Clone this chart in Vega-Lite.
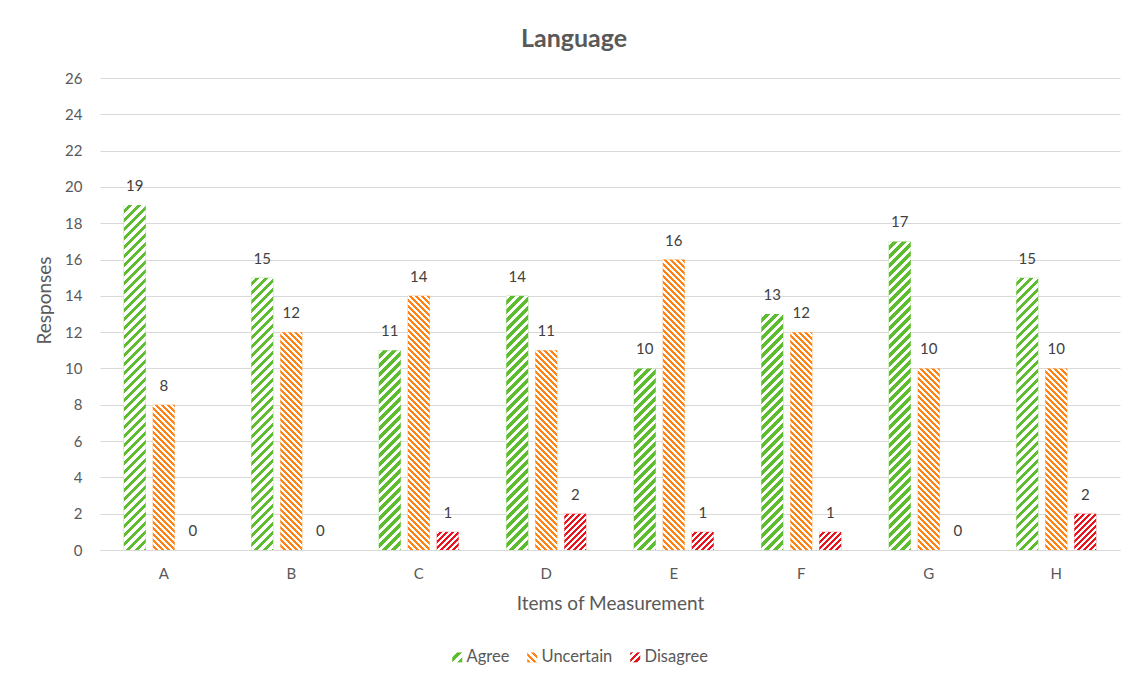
{
  "$schema": "https://vega.github.io/schema/vega-lite/v6.json",
  "autosize": {"type": "none"},
  "padding": {"left": 100, "top": 78, "right": 21, "bottom": 131},
  "width": 1020,
  "height": 472,
  "background": "#ffffff",
  "title": {
    "text": "Language",
    "fontSize": 25,
    "fontWeight": "bold",
    "color": "#595959",
    "anchor": "middle",
    "baseline": "alphabetic",
    "dx": -36,
    "offset": -1
  },
  "params": [
    {
      "name": "hatch",
      "value": [
        {"offset": 0, "color": "#ffffff"},
        {"offset": 0.00926, "color": "#ffffff"}, {"offset": 0.00926, "color": "rgba(255,255,255,0)"},
        {"offset": 0.01852, "color": "rgba(255,255,255,0)"}, {"offset": 0.01852, "color": "#ffffff"},
        {"offset": 0.02778, "color": "#ffffff"}, {"offset": 0.02778, "color": "rgba(255,255,255,0)"},
        {"offset": 0.03704, "color": "rgba(255,255,255,0)"}, {"offset": 0.03704, "color": "#ffffff"},
        {"offset": 0.0463, "color": "#ffffff"}, {"offset": 0.0463, "color": "rgba(255,255,255,0)"},
        {"offset": 0.05556, "color": "rgba(255,255,255,0)"}, {"offset": 0.05556, "color": "#ffffff"},
        {"offset": 0.06481, "color": "#ffffff"}, {"offset": 0.06481, "color": "rgba(255,255,255,0)"},
        {"offset": 0.07407, "color": "rgba(255,255,255,0)"}, {"offset": 0.07407, "color": "#ffffff"},
        {"offset": 0.08333, "color": "#ffffff"}, {"offset": 0.08333, "color": "rgba(255,255,255,0)"},
        {"offset": 0.09259, "color": "rgba(255,255,255,0)"}, {"offset": 0.09259, "color": "#ffffff"},
        {"offset": 0.10185, "color": "#ffffff"}, {"offset": 0.10185, "color": "rgba(255,255,255,0)"},
        {"offset": 0.11111, "color": "rgba(255,255,255,0)"}, {"offset": 0.11111, "color": "#ffffff"},
        {"offset": 0.12037, "color": "#ffffff"}, {"offset": 0.12037, "color": "rgba(255,255,255,0)"},
        {"offset": 0.12963, "color": "rgba(255,255,255,0)"}, {"offset": 0.12963, "color": "#ffffff"},
        {"offset": 0.13889, "color": "#ffffff"}, {"offset": 0.13889, "color": "rgba(255,255,255,0)"},
        {"offset": 0.14815, "color": "rgba(255,255,255,0)"}, {"offset": 0.14815, "color": "#ffffff"},
        {"offset": 0.15741, "color": "#ffffff"}, {"offset": 0.15741, "color": "rgba(255,255,255,0)"},
        {"offset": 0.16667, "color": "rgba(255,255,255,0)"}, {"offset": 0.16667, "color": "#ffffff"},
        {"offset": 0.17593, "color": "#ffffff"}, {"offset": 0.17593, "color": "rgba(255,255,255,0)"},
        {"offset": 0.18519, "color": "rgba(255,255,255,0)"}, {"offset": 0.18519, "color": "#ffffff"},
        {"offset": 0.19444, "color": "#ffffff"}, {"offset": 0.19444, "color": "rgba(255,255,255,0)"},
        {"offset": 0.2037, "color": "rgba(255,255,255,0)"}, {"offset": 0.2037, "color": "#ffffff"},
        {"offset": 0.21296, "color": "#ffffff"}, {"offset": 0.21296, "color": "rgba(255,255,255,0)"},
        {"offset": 0.22222, "color": "rgba(255,255,255,0)"}, {"offset": 0.22222, "color": "#ffffff"},
        {"offset": 0.23148, "color": "#ffffff"}, {"offset": 0.23148, "color": "rgba(255,255,255,0)"},
        {"offset": 0.24074, "color": "rgba(255,255,255,0)"}, {"offset": 0.24074, "color": "#ffffff"},
        {"offset": 0.25, "color": "#ffffff"}, {"offset": 0.25, "color": "rgba(255,255,255,0)"},
        {"offset": 0.25926, "color": "rgba(255,255,255,0)"}, {"offset": 0.25926, "color": "#ffffff"},
        {"offset": 0.26852, "color": "#ffffff"}, {"offset": 0.26852, "color": "rgba(255,255,255,0)"},
        {"offset": 0.27778, "color": "rgba(255,255,255,0)"}, {"offset": 0.27778, "color": "#ffffff"},
        {"offset": 0.28704, "color": "#ffffff"}, {"offset": 0.28704, "color": "rgba(255,255,255,0)"},
        {"offset": 0.2963, "color": "rgba(255,255,255,0)"}, {"offset": 0.2963, "color": "#ffffff"},
        {"offset": 0.30556, "color": "#ffffff"}, {"offset": 0.30556, "color": "rgba(255,255,255,0)"},
        {"offset": 0.31481, "color": "rgba(255,255,255,0)"}, {"offset": 0.31481, "color": "#ffffff"},
        {"offset": 0.32407, "color": "#ffffff"}, {"offset": 0.32407, "color": "rgba(255,255,255,0)"},
        {"offset": 0.33333, "color": "rgba(255,255,255,0)"}, {"offset": 0.33333, "color": "#ffffff"},
        {"offset": 0.34259, "color": "#ffffff"}, {"offset": 0.34259, "color": "rgba(255,255,255,0)"},
        {"offset": 0.35185, "color": "rgba(255,255,255,0)"}, {"offset": 0.35185, "color": "#ffffff"},
        {"offset": 0.36111, "color": "#ffffff"}, {"offset": 0.36111, "color": "rgba(255,255,255,0)"},
        {"offset": 0.37037, "color": "rgba(255,255,255,0)"}, {"offset": 0.37037, "color": "#ffffff"},
        {"offset": 0.37963, "color": "#ffffff"}, {"offset": 0.37963, "color": "rgba(255,255,255,0)"},
        {"offset": 0.38889, "color": "rgba(255,255,255,0)"}, {"offset": 0.38889, "color": "#ffffff"},
        {"offset": 0.39815, "color": "#ffffff"}, {"offset": 0.39815, "color": "rgba(255,255,255,0)"},
        {"offset": 0.40741, "color": "rgba(255,255,255,0)"}, {"offset": 0.40741, "color": "#ffffff"},
        {"offset": 0.41667, "color": "#ffffff"}, {"offset": 0.41667, "color": "rgba(255,255,255,0)"},
        {"offset": 0.42593, "color": "rgba(255,255,255,0)"}, {"offset": 0.42593, "color": "#ffffff"},
        {"offset": 0.43519, "color": "#ffffff"}, {"offset": 0.43519, "color": "rgba(255,255,255,0)"},
        {"offset": 0.44444, "color": "rgba(255,255,255,0)"}, {"offset": 0.44444, "color": "#ffffff"},
        {"offset": 0.4537, "color": "#ffffff"}, {"offset": 0.4537, "color": "rgba(255,255,255,0)"},
        {"offset": 0.46296, "color": "rgba(255,255,255,0)"}, {"offset": 0.46296, "color": "#ffffff"},
        {"offset": 0.47222, "color": "#ffffff"}, {"offset": 0.47222, "color": "rgba(255,255,255,0)"},
        {"offset": 0.48148, "color": "rgba(255,255,255,0)"}, {"offset": 0.48148, "color": "#ffffff"},
        {"offset": 0.49074, "color": "#ffffff"}, {"offset": 0.49074, "color": "rgba(255,255,255,0)"},
        {"offset": 0.5, "color": "rgba(255,255,255,0)"}, {"offset": 0.5, "color": "#ffffff"},
        {"offset": 0.50926, "color": "#ffffff"}, {"offset": 0.50926, "color": "rgba(255,255,255,0)"},
        {"offset": 0.51852, "color": "rgba(255,255,255,0)"}, {"offset": 0.51852, "color": "#ffffff"},
        {"offset": 0.52778, "color": "#ffffff"}, {"offset": 0.52778, "color": "rgba(255,255,255,0)"},
        {"offset": 0.53704, "color": "rgba(255,255,255,0)"}, {"offset": 0.53704, "color": "#ffffff"},
        {"offset": 0.5463, "color": "#ffffff"}, {"offset": 0.5463, "color": "rgba(255,255,255,0)"},
        {"offset": 0.55556, "color": "rgba(255,255,255,0)"}, {"offset": 0.55556, "color": "#ffffff"},
        {"offset": 0.56481, "color": "#ffffff"}, {"offset": 0.56481, "color": "rgba(255,255,255,0)"},
        {"offset": 0.57407, "color": "rgba(255,255,255,0)"}, {"offset": 0.57407, "color": "#ffffff"},
        {"offset": 0.58333, "color": "#ffffff"}, {"offset": 0.58333, "color": "rgba(255,255,255,0)"},
        {"offset": 0.59259, "color": "rgba(255,255,255,0)"}, {"offset": 0.59259, "color": "#ffffff"},
        {"offset": 0.60185, "color": "#ffffff"}, {"offset": 0.60185, "color": "rgba(255,255,255,0)"},
        {"offset": 0.61111, "color": "rgba(255,255,255,0)"}, {"offset": 0.61111, "color": "#ffffff"},
        {"offset": 0.62037, "color": "#ffffff"}, {"offset": 0.62037, "color": "rgba(255,255,255,0)"},
        {"offset": 0.62963, "color": "rgba(255,255,255,0)"}, {"offset": 0.62963, "color": "#ffffff"},
        {"offset": 0.63889, "color": "#ffffff"}, {"offset": 0.63889, "color": "rgba(255,255,255,0)"},
        {"offset": 0.64815, "color": "rgba(255,255,255,0)"}, {"offset": 0.64815, "color": "#ffffff"},
        {"offset": 0.65741, "color": "#ffffff"}, {"offset": 0.65741, "color": "rgba(255,255,255,0)"},
        {"offset": 0.66667, "color": "rgba(255,255,255,0)"}, {"offset": 0.66667, "color": "#ffffff"},
        {"offset": 0.67593, "color": "#ffffff"}, {"offset": 0.67593, "color": "rgba(255,255,255,0)"},
        {"offset": 0.68519, "color": "rgba(255,255,255,0)"}, {"offset": 0.68519, "color": "#ffffff"},
        {"offset": 0.69444, "color": "#ffffff"}, {"offset": 0.69444, "color": "rgba(255,255,255,0)"},
        {"offset": 0.7037, "color": "rgba(255,255,255,0)"}, {"offset": 0.7037, "color": "#ffffff"},
        {"offset": 0.71296, "color": "#ffffff"}, {"offset": 0.71296, "color": "rgba(255,255,255,0)"},
        {"offset": 0.72222, "color": "rgba(255,255,255,0)"}, {"offset": 0.72222, "color": "#ffffff"},
        {"offset": 0.73148, "color": "#ffffff"}, {"offset": 0.73148, "color": "rgba(255,255,255,0)"},
        {"offset": 0.74074, "color": "rgba(255,255,255,0)"}, {"offset": 0.74074, "color": "#ffffff"},
        {"offset": 0.75, "color": "#ffffff"}, {"offset": 0.75, "color": "rgba(255,255,255,0)"},
        {"offset": 0.75926, "color": "rgba(255,255,255,0)"}, {"offset": 0.75926, "color": "#ffffff"},
        {"offset": 0.76852, "color": "#ffffff"}, {"offset": 0.76852, "color": "rgba(255,255,255,0)"},
        {"offset": 0.77778, "color": "rgba(255,255,255,0)"}, {"offset": 0.77778, "color": "#ffffff"},
        {"offset": 0.78704, "color": "#ffffff"}, {"offset": 0.78704, "color": "rgba(255,255,255,0)"},
        {"offset": 0.7963, "color": "rgba(255,255,255,0)"}, {"offset": 0.7963, "color": "#ffffff"},
        {"offset": 0.80556, "color": "#ffffff"}, {"offset": 0.80556, "color": "rgba(255,255,255,0)"},
        {"offset": 0.81481, "color": "rgba(255,255,255,0)"}, {"offset": 0.81481, "color": "#ffffff"},
        {"offset": 0.82407, "color": "#ffffff"}, {"offset": 0.82407, "color": "rgba(255,255,255,0)"},
        {"offset": 0.83333, "color": "rgba(255,255,255,0)"}, {"offset": 0.83333, "color": "#ffffff"},
        {"offset": 0.84259, "color": "#ffffff"}, {"offset": 0.84259, "color": "rgba(255,255,255,0)"},
        {"offset": 0.85185, "color": "rgba(255,255,255,0)"}, {"offset": 0.85185, "color": "#ffffff"},
        {"offset": 0.86111, "color": "#ffffff"}, {"offset": 0.86111, "color": "rgba(255,255,255,0)"},
        {"offset": 0.87037, "color": "rgba(255,255,255,0)"}, {"offset": 0.87037, "color": "#ffffff"},
        {"offset": 0.87963, "color": "#ffffff"}, {"offset": 0.87963, "color": "rgba(255,255,255,0)"},
        {"offset": 0.88889, "color": "rgba(255,255,255,0)"}, {"offset": 0.88889, "color": "#ffffff"},
        {"offset": 0.89815, "color": "#ffffff"}, {"offset": 0.89815, "color": "rgba(255,255,255,0)"},
        {"offset": 0.90741, "color": "rgba(255,255,255,0)"}, {"offset": 0.90741, "color": "#ffffff"},
        {"offset": 0.91667, "color": "#ffffff"}, {"offset": 0.91667, "color": "rgba(255,255,255,0)"},
        {"offset": 0.92593, "color": "rgba(255,255,255,0)"}, {"offset": 0.92593, "color": "#ffffff"},
        {"offset": 0.93519, "color": "#ffffff"}, {"offset": 0.93519, "color": "rgba(255,255,255,0)"},
        {"offset": 0.94444, "color": "rgba(255,255,255,0)"}, {"offset": 0.94444, "color": "#ffffff"},
        {"offset": 0.9537, "color": "#ffffff"}, {"offset": 0.9537, "color": "rgba(255,255,255,0)"},
        {"offset": 0.96296, "color": "rgba(255,255,255,0)"}, {"offset": 0.96296, "color": "#ffffff"},
        {"offset": 0.97222, "color": "#ffffff"}, {"offset": 0.97222, "color": "rgba(255,255,255,0)"},
        {"offset": 0.98148, "color": "rgba(255,255,255,0)"}, {"offset": 0.98148, "color": "#ffffff"},
        {"offset": 0.99074, "color": "#ffffff"}, {"offset": 0.99074, "color": "rgba(255,255,255,0)"},
        {"offset": 1, "color": "rgba(255,255,255,0)"}
      ]
    }
  ],
  "data": {
    "values": [
      {"item": "A", "answer": "Agree", "responses": 19},
      {"item": "A", "answer": "Uncertain", "responses": 8},
      {"item": "A", "answer": "Disagree", "responses": 0},
      {"item": "B", "answer": "Agree", "responses": 15},
      {"item": "B", "answer": "Uncertain", "responses": 12},
      {"item": "B", "answer": "Disagree", "responses": 0},
      {"item": "C", "answer": "Agree", "responses": 11},
      {"item": "C", "answer": "Uncertain", "responses": 14},
      {"item": "C", "answer": "Disagree", "responses": 1},
      {"item": "D", "answer": "Agree", "responses": 14},
      {"item": "D", "answer": "Uncertain", "responses": 11},
      {"item": "D", "answer": "Disagree", "responses": 2},
      {"item": "E", "answer": "Agree", "responses": 10},
      {"item": "E", "answer": "Uncertain", "responses": 16},
      {"item": "E", "answer": "Disagree", "responses": 1},
      {"item": "F", "answer": "Agree", "responses": 13},
      {"item": "F", "answer": "Uncertain", "responses": 12},
      {"item": "F", "answer": "Disagree", "responses": 1},
      {"item": "G", "answer": "Agree", "responses": 17},
      {"item": "G", "answer": "Uncertain", "responses": 10},
      {"item": "G", "answer": "Disagree", "responses": 0},
      {"item": "H", "answer": "Agree", "responses": 15},
      {"item": "H", "answer": "Uncertain", "responses": 10},
      {"item": "H", "answer": "Disagree", "responses": 2}
    ]
  },
  "encoding": {
    "x": {
      "field": "item",
      "type": "nominal",
      "scale": {"paddingInner": 0, "paddingOuter": 0},
      "axis": {
        "title": "Items of Measurement",
        "labelAngle": 0,
        "labelPadding": 16,
        "titlePadding": 13,
        "domain": true,
        "domainColor": "#d9d9d9",
        "ticks": false
      }
    },
    "xOffset": {
      "field": "answer",
      "type": "nominal",
      "sort": ["Agree", "Uncertain", "Disagree"],
      "scale": {"paddingInner": 0.24, "paddingOuter": 0.82}
    },
    "y": {
      "field": "responses",
      "type": "quantitative",
      "scale": {"domain": [0, 26], "nice": false},
      "axis": {
        "title": "Responses",
        "values": [0, 2, 4, 6, 8, 10, 12, 14, 16, 18, 20, 22, 24, 26],
        "domain": false,
        "ticks": false,
        "labelPadding": 18,
        "titlePadding": 10,
        "titleY": 222,
        "gridColor": "#d9d9d9"
      }
    }
  },
  "layer": [
    {
      "mark": {"type": "bar", "opacity": 0},
      "encoding": {
        "fill": {
          "field": "answer",
          "type": "nominal",
          "scale": {
            "domain": ["Agree", "Uncertain", "Disagree"],
            "range": [
              {"expr": "{gradient: 'linear', x1: 0, y1: 0, x2: 1, y2: 1, stops: [{offset: 0, color: '#ffffff'}, {offset: 0.22, color: '#ffffff'}, {offset: 0.22, color: '#5ebd2e'}, {offset: 0.48, color: '#5ebd2e'}, {offset: 0.48, color: '#ffffff'}, {offset: 0.72, color: '#ffffff'}, {offset: 0.72, color: '#5ebd2e'}, {offset: 1, color: '#5ebd2e'}]}"},
              {"expr": "{gradient: 'linear', x1: 0, y1: 1, x2: 1, y2: 0, stops: [{offset: 0, color: '#ff8214'}, {offset: 0.167, color: '#ff8214'}, {offset: 0.167, color: '#ffffff'}, {offset: 0.333, color: '#ffffff'}, {offset: 0.333, color: '#ff8214'}, {offset: 0.5, color: '#ff8214'}, {offset: 0.5, color: '#ffffff'}, {offset: 0.667, color: '#ffffff'}, {offset: 0.667, color: '#ff8214'}, {offset: 0.833, color: '#ff8214'}, {offset: 0.833, color: '#ffffff'}, {offset: 1, color: '#ffffff'}]}"},
              {"expr": "{gradient: 'linear', x1: 0, y1: 0, x2: 1, y2: 1, stops: [{offset: 0, color: '#e8141e'}, {offset: 0.167, color: '#e8141e'}, {offset: 0.167, color: '#ffffff'}, {offset: 0.333, color: '#ffffff'}, {offset: 0.333, color: '#e8141e'}, {offset: 0.5, color: '#e8141e'}, {offset: 0.5, color: '#ffffff'}, {offset: 0.667, color: '#ffffff'}, {offset: 0.667, color: '#e8141e'}, {offset: 0.833, color: '#e8141e'}, {offset: 0.833, color: '#ffffff'}, {offset: 1, color: '#ffffff'}]}"}
            ]
          },
          "legend": {
            "title": null,
            "orient": "none",
            "direction": "horizontal",
            "legendX": 349,
            "legendY": 571,
            "symbolType": "square",
            "symbolSize": 100,
            "symbolStrokeWidth": 0,
            "symbolOpacity": 1,
            "labelFontSize": 16.5,
            "labelColor": "#595959",
            "labelOffset": 1,
            "columnPadding": 14,
            "padding": 0
          }
        }
      }
    },
    {
      "mark": {"type": "bar", "strokeWidth": 0},
      "encoding": {
        "color": {
          "field": "answer",
          "type": "nominal",
          "scale": {
            "domain": ["Agree", "Uncertain", "Disagree"],
            "range": ["#5ebd2e", "#ff8214", "#e8141e"]
          },
          "legend": null
        }
      }
    },
    {
      "mark": {
        "type": "bar",
        "strokeWidth": 0,
        "fill": {
          "expr": "{gradient: 'linear', x1: 0, y1: datum.answer === 'Uncertain' ? 1 : 0, x2: (datum.answer === 'Agree' ? 486 : 324) * bandwidth('xOffset') / (pow(bandwidth('xOffset'), 2) + pow(scale('y', 0) - scale('y', datum.responses), 2)), y2: (datum.answer === 'Uncertain' ? 1 : 0) + (datum.answer === 'Uncertain' ? -1 : 1) * (datum.answer === 'Agree' ? 486 : 324) * (scale('y', 0) - scale('y', datum.responses)) / (pow(bandwidth('xOffset'), 2) + pow(scale('y', 0) - scale('y', datum.responses), 2)), stops: hatch}"
        }
      }
    },
    {
      "mark": {
        "type": "text",
        "baseline": "bottom",
        "dy": -11,
        "fontSize": 15,
        "fill": "#404040"
      },
      "encoding": {
        "text": {"field": "responses", "type": "quantitative"}
      }
    }
  ],
  "config": {
    "font": "Lato",
    "view": {"stroke": null},
    "axis": {
      "labelColor": "#595959",
      "labelFontSize": 15,
      "titleColor": "#595959",
      "titleFontWeight": "normal",
      "titleFontSize": 19,
      "gridColor": "#d9d9d9"
    },
    "axisX": {"grid": false},
    "axisY": {"grid": true}
  }
}
